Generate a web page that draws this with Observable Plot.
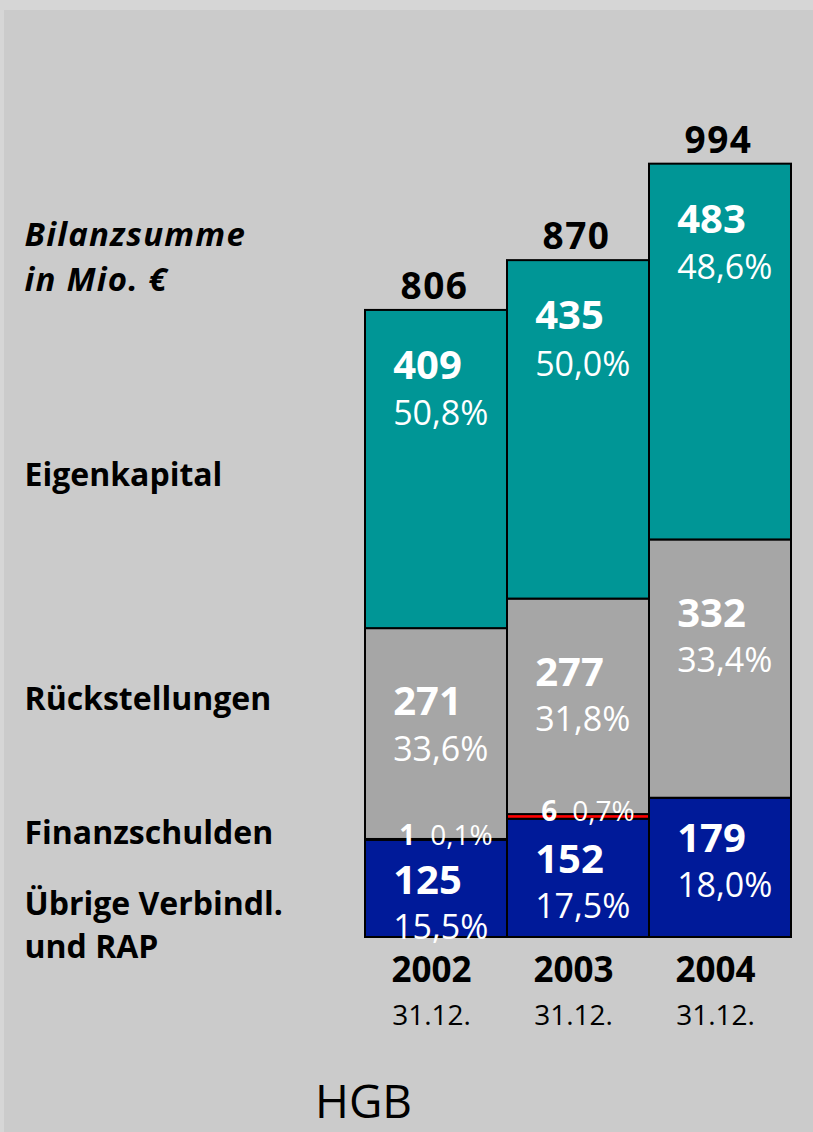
<!DOCTYPE html>
<html><head><meta charset="utf-8">
<script src="https://cdn.jsdelivr.net/npm/d3@7"></script>
<script src="https://cdn.jsdelivr.net/npm/@observablehq/plot@0.6"></script>
<style>
html,body{margin:0;padding:0;background:#d6d6d6;width:813px;height:1132px;overflow:hidden;}
#chart{position:absolute;left:4px;top:10px;width:809px;height:1122px;background:#cbcbcb;}
#chart svg{font-family:"Open Sans",sans-serif;overflow:visible;}
</style></head><body><div id="chart"></div>
<script>
const years = ["2002", "2003", "2004"];
const dates = ["31.12.", "31.12.", "31.12."];
const totals = [806, 870, 994];
const series = ["Übrige Verbindl. und RAP", "Finanzschulden", "Rückstellungen", "Eigenkapital"];
const uebrige = [125, 152, 179];
const finanz = [1, 6, 0];
const rueck = [271, 277, 332];
const eigen = [409, 435, 483];
const uebrigePct = ["15,5%", "17,5%", "18,0%"];
const finanzPct = ["0,1%", "0,7%", ""];
const rueckPct = ["33,6%", "31,8%", "33,4%"];
const eigenPct = ["50,8%", "50,0%", "48,6%"];
const colors = ["#001a99", "#ff0000", "#a6a6a6", "#009696"];
const leftLabels = ["Bilanzsumme", "in Mio. €", "Eigenkapital", "Rückstellungen", "Finanzschulden", "Übrige Verbindl.", "und RAP"];
const footer = "HGB";

// build table
const values = [uebrige, finanz, rueck, eigen];
const pcts = [uebrigePct, finanzPct, rueckPct, eigenPct];
const rows = [];
series.forEach((s, i) => years.forEach((y, j) => rows.push({year: y, series: s, value: values[i][j], pct: pcts[i][j]})));
const yearRows = years.map((y, j) => ({year: y, date: dates[j], total: totals[j]}));

// layout (pixels)
const W = 809, H = 1122, mTop = 149, mBottom = 195, mLeft = 360, mRight = 21;
const barLeftPad = 28;
const bw = (W - mLeft - mRight) / years.length;
const dxStart = -bw / 2 + barLeftPad;
const segLabel = {
  "Eigenkapital": [56, 104],
  "Rückstellungen": [74, 121],
  "Übrige Verbindl. und RAP": [41, 88]
};
const leftY = [223.5, 268.5, 464, 688, 822.5, 893, 936]; // cap centres in svg px
const leftStyle = [
  {fontStyle: "italic", fontSize: 33},
  {fontStyle: "italic", fontSize: 33},
  {}, {}, {}, {}, {}
];

const marks = [
  Plot.barY(rows, {x: "year", y: "value", z: "series", fill: "series", stroke: "black", strokeWidth: 2})
];

for (const s of Object.keys(segLabel)) {
  const [d1, d2] = segLabel[s];
  marks.push(Plot.text(rows, Plot.stackY2({
    x: "year", y: "value", z: "series",
    text: d => d.series === s ? String(d.value) : null,
    dx: dxStart, dy: d1, textAnchor: "start", fill: "white", fontSize: 40, fontWeight: "bold"
  })));
  marks.push(Plot.text(rows, Plot.stackY2({
    x: "year", y: "value", z: "series",
    text: d => d.series === s ? d.pct : null,
    dx: dxStart, dy: d2, textAnchor: "start", fill: "white", fontSize: 34
  })));
}
// Finanzschulden labels
marks.push(Plot.text(rows, Plot.stackY2({
  x: "year", y: "value", z: "series",
  text: d => d.series === "Finanzschulden" && d.value > 0 ? String(d.value) : null,
  dx: -bw / 2 + 34, dy: -3, textAnchor: "start", fill: "white", fontSize: 28, fontWeight: "bold"
})));
marks.push(Plot.text(rows, Plot.stackY2({
  x: "year", y: "value", z: "series",
  text: d => d.series === "Finanzschulden" && d.value > 0 ? d.pct : null,
  dx: -bw / 2 + 65, dy: -3, textAnchor: "start", fill: "white", fontSize: 28
})));
// totals
marks.push(Plot.text(yearRows, {x: "year", y: "total", text: d => String(d.total), dx: -2, dy: -23, fill: "black", fontSize: 37, fontWeight: "bold"}));
// year labels
marks.push(Plot.text(yearRows, {x: "year", text: "year", frameAnchor: "bottom", dx: -5, dy: 33, lineAnchor: "middle", fill: "black", fontSize: 35, fontWeight: "bold"}));
marks.push(Plot.text(yearRows, {x: "year", text: "date", frameAnchor: "bottom", dx: -5, dy: 79, lineAnchor: "middle", fill: "black", fontSize: 28}));
// left labels
leftLabels.forEach((t, i) => {
  marks.push(Plot.text([t], {
    text: d => d, frameAnchor: "top-left", textAnchor: "start", lineAnchor: "top",
    dx: 20 - mLeft, dy: leftY[i] - mTop - 11.5, fill: "black", fontSize: 32, fontWeight: "bold",
    ...leftStyle[i]
  }));
});
// footer
marks.push(Plot.text([footer], {text: d => d, frameAnchor: "bottom-left", textAnchor: "middle", lineAnchor: "middle", dx: 359 - mLeft, dy: 1093 - (H - mBottom), fill: "black", fontSize: 46}));

const chart = Plot.plot({
  width: W, height: H,
  marginTop: mTop, marginBottom: mBottom, marginLeft: mLeft, marginRight: mRight,
  style: {background: "transparent", fontFamily: "Open Sans, sans-serif", overflow: "visible"},
  x: {domain: years, padding: 0, axis: null},
  y: {domain: [0, 1000], axis: null},
  color: {domain: series, range: colors},
  marks
});
// letter spacing tweaks (styling only)
const totalStrings = totals.map(String);
chart.querySelectorAll("text").forEach(t => {
  const s = t.textContent;
  if (s === leftLabels[0] || s === leftLabels[1]) t.style.letterSpacing = "1.2px";
  if (totalStrings.includes(s) && t.getAttribute("fill") !== "white" && t.parentNode.getAttribute("fill") !== "white") t.style.letterSpacing = "1.5px";
});
document.getElementById("chart").appendChild(chart);
</script>
</body></html>
